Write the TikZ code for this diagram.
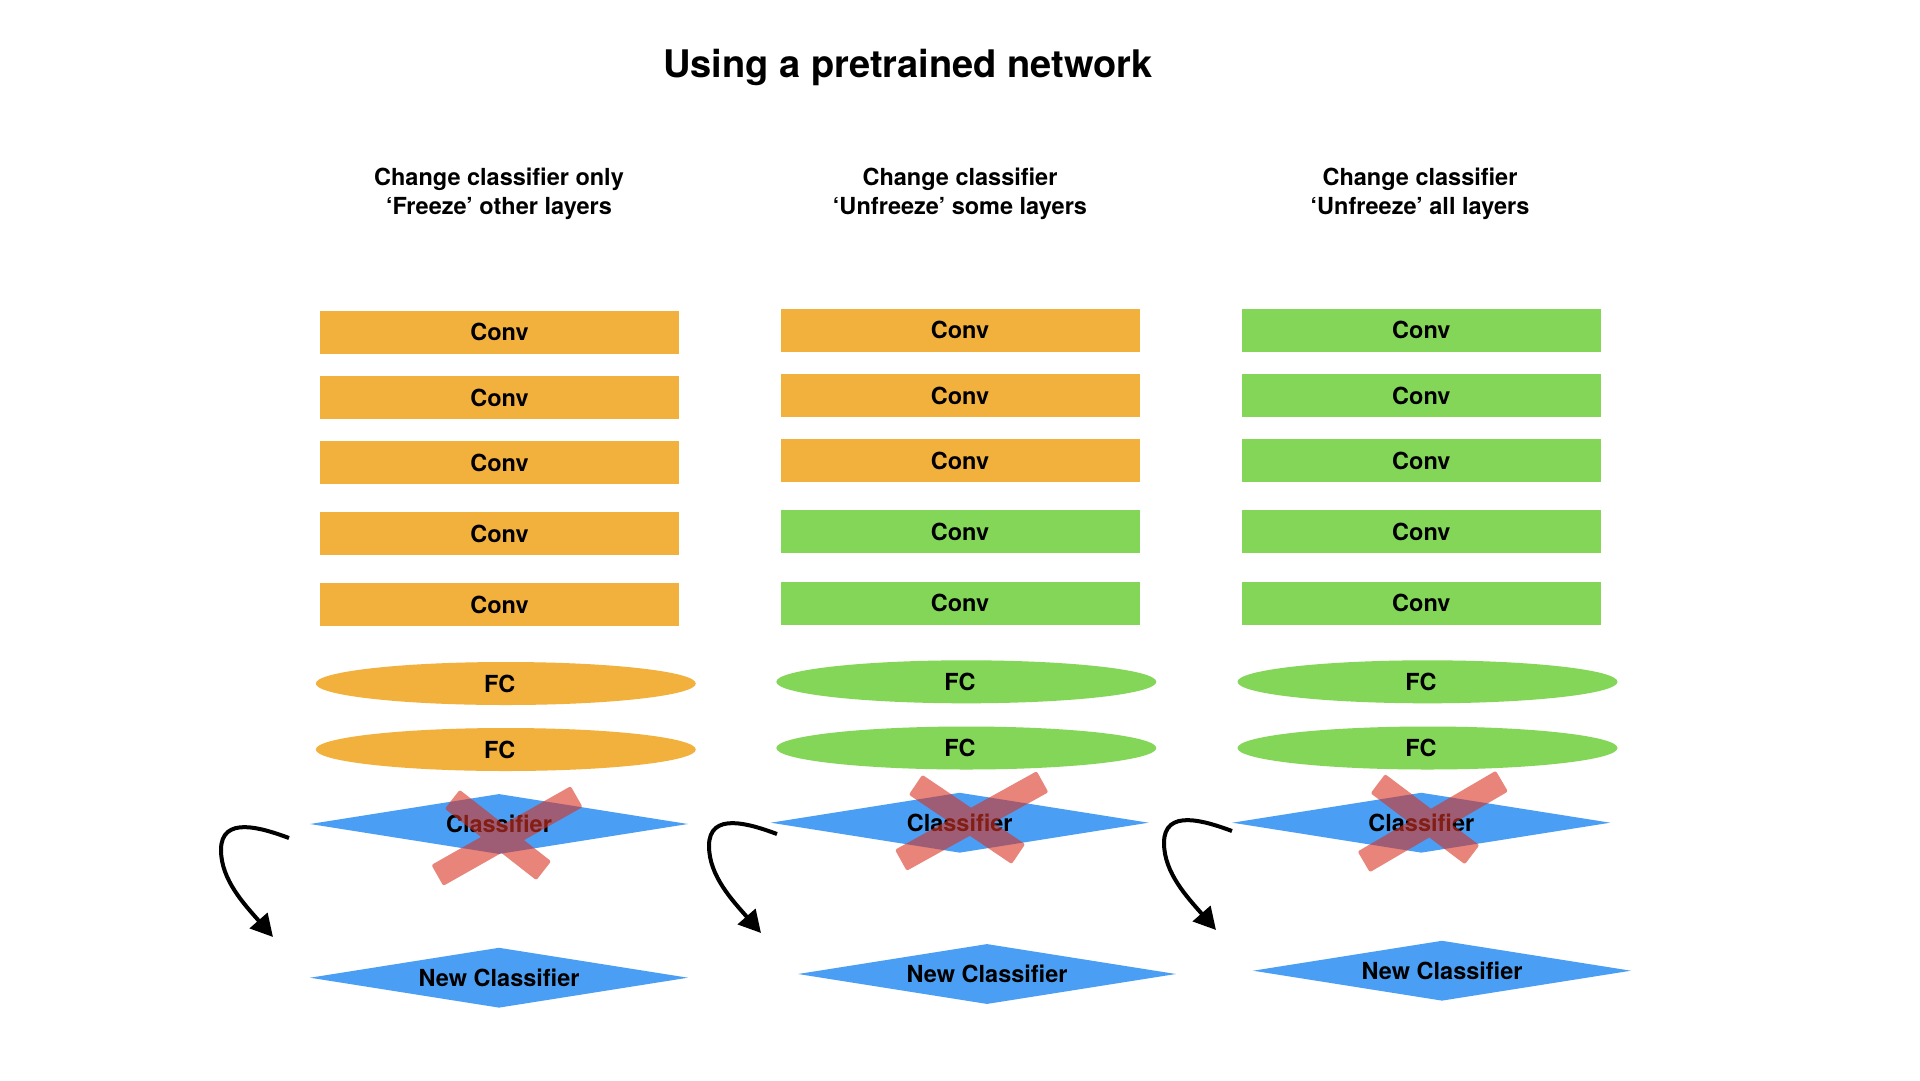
\documentclass[tikz,border=0pt]{standalone}
\usepackage{fontspec}
\setmainfont{TeX Gyre Heros}
\usetikzlibrary{shapes.geometric,arrows.meta,calc}
\definecolor{convor}{RGB}{242,176,61}
\definecolor{convgr}{RGB}{131,214,87}
\definecolor{clsblue}{RGB}{74,159,245}
\definecolor{xred}{RGB}{217,50,33}
\newcommand{\tapebar}[4]{($(#1,#2)+(#3:#4)+(#3+90:12)$) -- ($(#1,#2)+(#3+180:#4)+(#3+90:12)$) -- ($(#1,#2)+(#3+180:#4)+(#3-90:12)$) -- ($(#1,#2)+(#3:#4)+(#3-90:12)$) -- cycle}
\begin{document}
\begin{tikzpicture}[x=1pt,y=-1pt,
  lbl/.style={font=\fontsize{23.5}{28}\selectfont\bfseries, inner sep=0pt},
  convbox/.style={rectangle, minimum width=359pt, minimum height=43pt, inner sep=0pt, lbl},
  fcell/.style={ellipse, minimum width=380pt, minimum height=43pt, inner sep=0pt},
  clsd/.style={diamond, aspect=6.3, minimum width=378pt, minimum height=60pt, inner sep=0pt, fill=clsblue, lbl},
  headtxt/.style={anchor=base, lbl},
  swoop/.style={line width=4pt, -{Triangle[length=22pt,width=23pt]}},
  tape/.style={fill=xred, fill opacity=0.6, rounded corners=2pt},
]
\useasboundingbox (0,0) rectangle (1920,1080);
\fill[white] (0,0) rectangle (1920,1080);

% title
\node[anchor=base, font=\fontsize{38}{44}\selectfont\bfseries, inner sep=0pt] (title) at (908,77) {Using a pretrained network};

% headings
\node[headtxt] (h1a) at (499,185.7) {Change classifier only};
\node[headtxt] (h1b) at (499,214) {‘Freeze’ other layers};
\node[headtxt] (h2a) at (960,185.7) {Change classifier};
\node[headtxt] (h2b) at (960,214) {‘Unfreeze’ some layers};
\node[headtxt] (h3a) at (1420,185.7) {Change classifier};
\node[headtxt] (h3b) at (1420,214) {‘Unfreeze’ all layers};

% column 1
\foreach \r/\y in {1/332,2/397.5,3/462.5,4/533.5,5/604.8}
  \node[convbox, fill=convor] (c1r\r) at (499.5,\y) {Conv};
% column 2
\foreach \r/\y/\c in {1/330.3/convor,2/395.7/convor,3/460.7/convor,4/531.8/convgr,5/603.3/convgr}
  \node[convbox, fill=\c] (c2r\r) at (960,\y) {Conv};
% column 3
\foreach \r/\y in {1/330.3,2/395.7,3/460.7,4/531.8,5/603.3}
  \node[convbox, fill=convgr] (c3r\r) at (1421.3,\y) {Conv};

% FC layers
\node[fcell, fill=convor] (f1a) at (505.8,683.5) {};
\node[fcell, fill=convor] (f1b) at (505.8,749.5) {};
\node[fcell, fill=convgr] (f2a) at (966.3,681.8) {};
\node[fcell, fill=convgr] (f2b) at (966.3,748) {};
\node[fcell, fill=convgr] (f3a) at (1427.5,681.8) {};
\node[fcell, fill=convgr] (f3b) at (1427.5,748) {};
\node[lbl] (f1at) at (499.7,683.5) {FC};
\node[lbl] (f1bt) at (499.7,749.5) {FC};
\node[lbl] (f2at) at (960,681.8) {FC};
\node[lbl] (f2bt) at (960,748) {FC};
\node[lbl] (f3at) at (1421,681.8) {FC};
\node[lbl] (f3bt) at (1421,748) {FC};

% classifiers
\node[clsd] (k1) at (499,824) {Classifier};
\node[clsd] (k2) at (959.7,822.7) {Classifier};
\node[clsd] (k3) at (1421.3,822.7) {Classifier};
\node[clsd] (n1) at (499,977.7) {New Classifier};
\node[clsd] (n2) at (987,974) {New Classifier};
\node[clsd] (n3) at (1442,970.7) {New Classifier};

% crosses
\fill[tape] \tapebar{498}{835}{38}{58} \tapebar{507}{836}{-29.5}{80};
\fill[tape] \tapebar{967}{819.4}{34}{62} \tapebar{971.7}{821}{-29}{81};
\fill[tape] \tapebar{1425}{819.2}{37}{59} \tapebar{1432.8}{821.5}{-30.3}{80};

% curved arrows
\foreach \i/\dx/\dy in {1/0/0,2/488/-4,3/943/-7}{
  \begin{scope}[shift={(\dx,\dy)}]
    \coordinate (a\i s) at (289,838);
    \coordinate (a\i m) at (221,850);
    \coordinate (a\i e) at (273,937);
    \draw[swoop] (a\i s) .. controls +(-27,-10) and +(0,-35) .. (a\i m) .. controls +(0,30) and +(-28,-32) .. (a\i e);
  \end{scope}
}
\end{tikzpicture}
\end{document}
